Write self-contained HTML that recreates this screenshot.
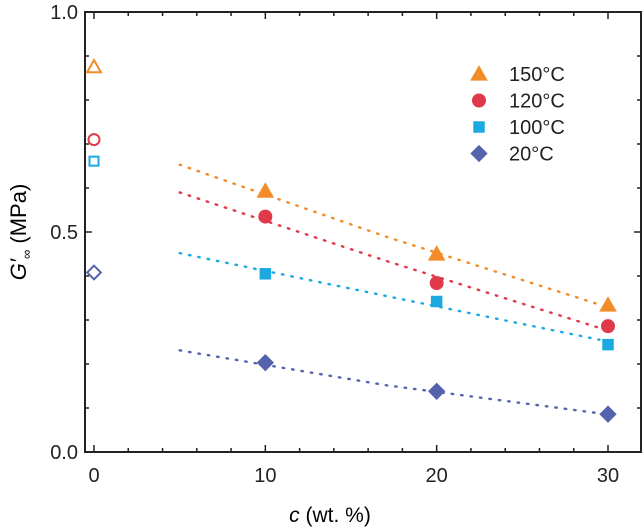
<!DOCTYPE html>
<html><head><meta charset="utf-8"><style>
html,body{margin:0;padding:0;background:#fff;}
svg{display:block;font-family:"Liberation Sans",Arial,sans-serif;}
</style></head><body>
<svg id="chart" width="644" height="530" viewBox="0 0 644 530">
<g id="axes"></g>
<g id="fits"></g>
<g id="marks"></g>
<g id="legend"></g>
<text x="330" y="522" font-size="21" text-anchor="middle"><tspan font-style="italic">c</tspan> (wt. %)</text>
<text transform="translate(26,232) rotate(-90)" font-size="22" text-anchor="middle"><tspan font-style="italic">G′</tspan><tspan font-size="13" dy="5">∞</tspan><tspan dy="-5"> (MPa)</tspan></text>
</svg>
<script>
const seriesNames = ["150°C","120°C","100°C","20°C"];
const seriesColors = ["#f28c28","#e0394a","#1ba9e0","#5563ad"];
const seriesShapes = ["tri","circ","sq","dia"];
const xValues = [0,10,20,30];
const s150 = [0.875,0.593,0.45,0.334];
const s120 = [0.71,0.535,0.384,0.286];
const s100 = [0.661,0.405,0.342,0.244];
const s20 = [0.408,0.203,0.138,0.086];
const fitX = [5,17,29.5];
const fit150 = [0.653,0.49,0.335];
const fit120 = [0.59,0.435,0.282];
const fit100 = [0.452,0.355,0.255];
const fit20 = [0.231,0.152,0.088];
const xTicks = [0,10,20,30];
const yTicks = [0.0,0.5,1.0];
const yTickLabels = ["0.0","0.5","1.0"];

const L=85,R=641,T=12,B=452;
const xs=v=>94+v*(608-94)/30;
const ys=v=>B-v*(B-T)/1.0;
const NS="http://www.w3.org/2000/svg";
function mk(tag,attrs,parent){const e=document.createElementNS(NS,tag);for(const k in attrs)e.setAttribute(k,attrs[k]);parent.appendChild(e);return e;}

const ax=document.getElementById('axes');
let fr=mk('rect',{x:L,y:T,width:R-L,height:B-T,fill:'none',stroke:'#222','stroke-width':2},ax);


for(let v=0;v<=32;v+=2){
  const x=xs(v); if(x>R-1)break;
  const major=v%10===0; const len=major?7:4;
  let t=mk('line',{x1:x,y1:B,x2:x,y2:B-len,stroke:'#222','stroke-width':1.5},ax);
  
  
  let t2=mk('line',{x1:x,y1:T,x2:x,y2:T+len,stroke:'#222','stroke-width':1.5},ax);
  
  
}
xTicks.forEach(v=>{
  let t=mk('text',{x:xs(v),y:B+30,'font-size':20,'text-anchor':'middle',fill:'#222'},ax);
  t.textContent=v;
  
  
});
for(let i=0;i<=10;i++){
  const v=i/10,y=ys(v),major=i%5===0,len=major?7:4;
  let t=mk('line',{x1:L,y1:y,x2:L+len,y2:y,stroke:'#222','stroke-width':1.5},ax);
  
  
  let t2=mk('line',{x1:R,y1:y,x2:R-len,y2:y,stroke:'#222','stroke-width':1.5},ax);
  
  
}
yTicks.forEach((v,i)=>{
  let t=mk('text',{x:L-7,y:ys(v)+7,'font-size':20,'text-anchor':'end',fill:'#222'},ax);
  t.textContent=yTickLabels[i];
  
  
});

const series=[s150,s120,s100,s20];
const fits=[fit150,fit120,fit100,fit20];
const fg=document.getElementById('fits');
fits.forEach((f,si)=>{
  const pts=fitX.map((x,i)=>xs(x)+','+ys(f[i])).join(' ');
  let p=mk('polyline',{points:pts,fill:'none',stroke:seriesColors[si],'stroke-width':2.4,'stroke-dasharray':'1.5 8','stroke-linecap':'round'},fg);
  
  
});

function marker(shape,cx,cy,s,color,open,parent){
  const a=open?{fill:'none',stroke:color,'stroke-width':2}:{fill:color,stroke:'none'};
  let e;
  if(shape==='tri'){const h=s*1.05;e=mk('polygon',Object.assign({points:`${cx},${cy-h*0.6} ${cx-h*0.6},${cy+h*0.45} ${cx+h*0.6},${cy+h*0.45}`},a),parent);}
  else if(shape==='circ'){e=mk('circle',Object.assign({cx:cx,cy:cy,r:s*0.5},a),parent);}
  else if(shape==='sq'){const w=s*0.82;e=mk('rect',Object.assign({x:cx-w/2,y:cy-w/2,width:w,height:w},a),parent);}
  else {const h=s*0.62;e=mk('polygon',Object.assign({points:`${cx},${cy-h} ${cx+h},${cy} ${cx},${cy+h} ${cx-h},${cy}`},a),parent);}
  return e;
}
const mg=document.getElementById('marks');
series.forEach((s,si)=>{
  s.forEach((v,i)=>{
    const open=xValues[i]===0;
    const e=marker(seriesShapes[si],xs(xValues[i]),ys(v),open?11:14,seriesColors[si],open,mg);
    
    
  });
});

const lg=document.getElementById('legend');
seriesNames.forEach((n,i)=>{
  const y=74+i*26.5;
  const e=marker(seriesShapes[i],479,y,14,seriesColors[i],false,lg);
  
  
  const t=mk('text',{x:509,y:y+7,'font-size':20,fill:'#222'},lg);
  t.textContent=n;
  
  
});
</script>
</body></html>
